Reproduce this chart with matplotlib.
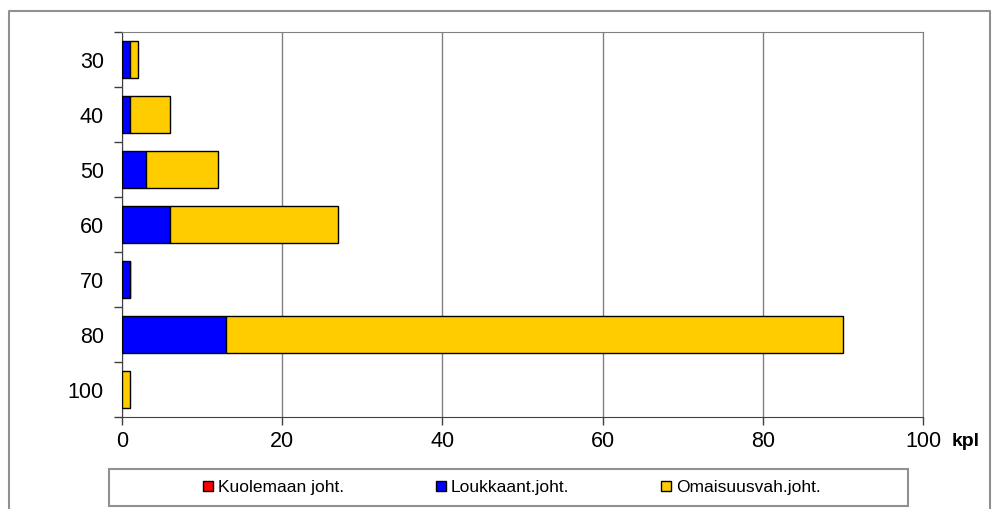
"""
Onnettomuudet nopeusrajoituksittain (kpl) – vaakapylväskaavio.
"""

import numpy as np
import matplotlib.pyplot as plt
from matplotlib.lines import Line2D
from matplotlib.patches import Rectangle

# ─── Data ────────────────────────────────────────────────────────────────────

categories = ["30", "40", "50", "60", "70", "80", "100"]
kuolemaan = [0, 0, 0, 0, 0, 0, 0]
loukkaant = [1, 1, 3, 6, 1, 13, 0]
omaisuus = [1, 5, 9, 21, 0, 77, 1]

series_names = ["Kuolemaan joht.", "Loukkaant.joht.", "Omaisuusvah.joht."]
series_colors = ["#FF0000", "#0000FF", "#FFCC00"]
x_ticks = [0, 20, 40, 60, 80, 100]

# ─── Figure ──────────────────────────────────────────────────────────────────

plt.rcParams["font.family"] = ["Liberation Sans", "DejaVu Sans"]

W, H = 997, 509
fig = plt.figure(figsize=(W / 100, H / 100), dpi=100)
ax = fig.add_axes([122 / W, 1 - 417 / H, (923 - 122) / W, (417 - 32) / H])

y = np.arange(len(categories))
left = np.zeros(len(categories))
for vals, name, col in zip([kuolemaan, loukkaant, omaisuus], series_names, series_colors):
    ax.barh(y, vals, left=left, height=0.67, color=col, edgecolor="black",
            linewidth=1, label=name, zorder=3)
    left = left + np.array(vals)

ax.set_xlim(0, 100)
ax.set_ylim(len(categories) - 0.5, -0.5)
ax.set_xticks(x_ticks)
ax.set_yticks(y)
ax.set_yticklabels(categories)
ax.set_yticks(np.arange(-0.5, len(categories) + 0.5, 1), minor=True)
ax.tick_params(axis="y", which="major", length=0, pad=13, labelsize=15.5)
ax.tick_params(axis="y", which="minor", length=6, color="#404040", width=1)
ax.tick_params(axis="x", length=6, color="#404040", width=1, labelsize=15.5, pad=4)

ax.grid(axis="x", color="#808080", linewidth=1, zorder=0)
for side in ["top", "right"]:
    ax.spines[side].set_color("#808080")
for side in ["left", "bottom"]:
    ax.spines[side].set_color("#404040")

fig.text(952 / W, 1 - 441 / H, "kpl", fontsize=14, fontweight="bold",
         ha="left", va="center")

# Outer frame (left, top, right edges)
fig.add_artist(Line2D([9 / W, 9 / W, 990 / W, 990 / W],
                      [0, 1 - 11 / H, 1 - 11 / H, 0],
                      transform=fig.transFigure, color="#909090", linewidth=1.5))

# Legend box
fig.add_artist(Rectangle((109 / W, 1 - 506 / H), (908 - 109) / W, (506 - 469) / H,
                         transform=fig.transFigure, fill=False,
                         edgecolor="#909090", linewidth=1.5))
handles, labels = ax.get_legend_handles_labels()
fig.legend(handles, labels, loc="center", ncol=3,
           bbox_to_anchor=(512 / W, 1 - 487.5 / H), frameon=False,
           fontsize=12.5, handlelength=0.55, handleheight=0.55, handletextpad=0.3,
           columnspacing=5.3)

fig.savefig("out.png", dpi=100)
